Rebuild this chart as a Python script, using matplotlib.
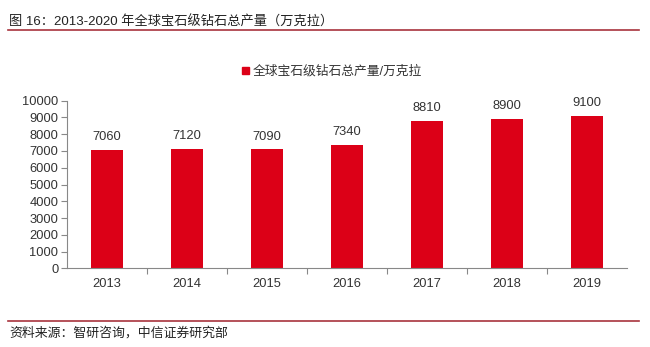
import matplotlib.pyplot as plt
from matplotlib.lines import Line2D
from matplotlib.patches import Patch

plt.rcParams['font.family'] = ['Liberation Sans', 'Noto Sans CJK SC', 'DejaVu Sans']

# 数据
years = ['2013', '2014', '2015', '2016', '2017', '2018', '2019']
output = [7060, 7120, 7090, 7340, 8810, 8900, 9100]
yticks = [0, 1000, 2000, 3000, 4000, 5000, 6000, 7000, 8000, 9000, 10000]

title = '图 16：2013-2020 年全球宝石级钻石总产量（万克拉）'
series_name = '全球宝石级钻石总产量/万克拉'
source = '资料来源：智研咨询，中信证券研究部'

bar_color = '#DC0017'
text_color = '#333333'
rule_color = '#a8333d'

W, H = 650, 347
fig = plt.figure(figsize=(6.5, 3.47), dpi=100)
ax = fig.add_axes([66.7 / W, 1 - 268.3 / H, 560 / W, 167.6 / H])

x = range(len(years))
bars = ax.bar(x, output, width=0.4, color=bar_color)
for b, v in zip(bars, output):
    ax.annotate(str(v), (b.get_x() + b.get_width() / 2, v), xytext=(0, 5),
                textcoords='offset points', ha='center', va='bottom',
                fontsize=9.3, color=text_color)

ax.set_xlim(-0.5, len(years) - 0.5)
ax.set_ylim(0, 10000)
ax.set_yticks(yticks)
ax.set_yticklabels([str(t) for t in yticks])
# 刻度线在类别分界处，标签居中
ax.set_xticks([i + 0.5 for i in range(len(years) - 1)])
ax.set_xticklabels([])
ax.set_xticks(list(x), minor=True)
ax.set_xticklabels(years, minor=True)
ax.tick_params(axis='x', which='minor', length=0, pad=7, labelsize=9.3, labelcolor=text_color)
ax.tick_params(axis='x', which='major', length=4, color='#888888')
ax.tick_params(axis='y', length=4, color='#888888', labelsize=9.3, labelcolor=text_color, pad=2)

for s in ['top', 'right']:
    ax.spines[s].set_visible(False)
ax.spines['left'].set_color('#888888')
ax.spines['bottom'].set_color('#888888')

fig.legend(handles=[Patch(color=bar_color, label=series_name)], loc='center',
           bbox_to_anchor=(332 / W, 1 - 71.7 / H), frameon=False, fontsize=9.2,
           handlelength=0.55, handleheight=0.55, handletextpad=0.3, labelcolor=text_color)

# 标题与来源
fig.text(9 / W, 1 - 22.5 / H, title, fontsize=9.5, color='#222222', va='center', ha='left')
fig.add_artist(Line2D([8 / W, 639 / W], [1 - 29.5 / H] * 2, color=rule_color, lw=1.2))
fig.add_artist(Line2D([8 / W, 639 / W], [1 - 320.7 / H] * 2, color=rule_color, lw=1.2))
fig.text(9 / W, 1 - 333.3 / H, source, fontsize=9.3, color='#222222', va='center', ha='left')

fig.savefig('out.png', dpi=100)
